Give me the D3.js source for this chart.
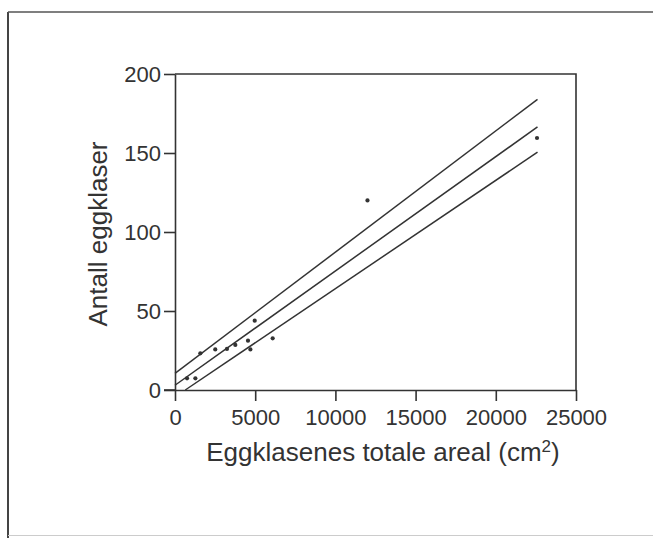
<!DOCTYPE html>
<html>
<head>
<meta charset="utf-8">
<script src="https://cdn.jsdelivr.net/npm/d3@7"></script>
<style>
  html, body { margin: 0; padding: 0; background: #fff; }
  svg { display: block; }
  text { font-family: "Liberation Sans", Arial, Helvetica, sans-serif; fill: #333; }
</style>
</head>
<body>
<script>
// ---- data ----
const pointsX = [750, 1270, 1580, 2510, 3240, 3760, 4550, 4700, 4970, 6090, 12000, 22570];
const pointsY = [7.4, 7.4, 23.2, 25.7, 26, 28.5, 31.2, 25.7, 43.9, 32.7, 120, 159.5];

const fitX = [0, 22600];
const fitY = [3, 166.5];
const upperX = [0, 22600];
const upperY = [10.5, 184];
const lowerX = [640, 22600];
const lowerY = [0, 150.5];

const xTicks = [0, 5000, 10000, 15000, 20000, 25000];
const yTicks = [0, 50, 100, 150, 200];
const xTitle = "Eggklasenes totale areal (cm";
const xTitleSup = "2";
const xTitleEnd = ")";
const yTitle = "Antall eggklaser";

// ---- drawing ----
const W = 653, H = 538;
const svg = d3.select("body").append("svg").attr("width", W).attr("height", H);
const ink = "#333";

// outer frame
svg.append("line").attr("x1", 8).attr("x2", 8).attr("y1", 12).attr("y2", H)
  .attr("stroke", "#444").attr("stroke-width", 2);
svg.append("line").attr("x1", 8).attr("x2", W).attr("y1", 12).attr("y2", 12)
  .attr("stroke", "#555").attr("stroke-width", 1.5);
svg.append("line").attr("x1", 8).attr("x2", W).attr("y1", 535.5).attr("y2", 535.5)
  .attr("stroke", "#ccc").attr("stroke-width", 1);

const x = d3.scaleLinear().domain([0, 25000]).range([175, 576]);
const y = d3.scaleLinear().domain([0, 200]).range([390, 74]);

// plot box (top & right)
svg.append("path")
  .attr("d", `M${x(0)},${y(200)}H${x(25000)}V${y(0)}`)
  .attr("fill", "none").attr("stroke", ink).attr("stroke-width", 1.6);

const xAxis = svg.append("g").attr("transform", `translate(0,${y(0)})`)
  .call(d3.axisBottom(x).tickValues(xTicks).tickFormat(d3.format("d"))
        .tickSize(11).tickSizeOuter(0).tickPadding(8));
const yAxis = svg.append("g").attr("transform", `translate(${x(0)},0)`)
  .call(d3.axisLeft(y).tickValues(yTicks).tickFormat(d3.format("d"))
        .tickSize(11).tickSizeOuter(0).tickPadding(3));

[xAxis, yAxis].forEach(g => {
  g.select(".domain").attr("stroke", ink).attr("stroke-width", 1.6);
  g.selectAll(".tick line").attr("stroke", ink).attr("stroke-width", 1.6);
  g.selectAll(".tick text").attr("fill", ink).style("font-size", "22px")
    .style("font-family", "'Liberation Sans', Arial, sans-serif");
});
// extend x-axis slightly left like the reference
svg.append("line").attr("x1", x(0) - 11).attr("x2", x(0)).attr("y1", y(0)).attr("y2", y(0))
  .attr("stroke", ink).attr("stroke-width", 1.6);

// regression & band lines
const line = d3.line().x(d => x(d[0])).y(d => y(d[1]));
[[upperX, upperY], [fitX, fitY], [lowerX, lowerY]].forEach(([xs, ys]) => {
  svg.append("path").datum(xs.map((v, i) => [v, ys[i]]))
    .attr("d", line).attr("fill", "none").attr("stroke", ink).attr("stroke-width", 1.5);
});

// points
svg.append("g").selectAll("circle").data(pointsX.map((v, i) => [v, pointsY[i]]))
  .join("circle").attr("cx", d => x(d[0])).attr("cy", d => y(d[1]))
  .attr("r", 2.1).attr("fill", "#333");

// axis titles
const xt = svg.append("text").attr("x", 383).attr("y", 461).attr("text-anchor", "middle")
  .style("font-size", "26px");
xt.append("tspan").text(xTitle);
xt.append("tspan").text(xTitleSup).attr("dy", -9).style("font-size", "17px");
xt.append("tspan").text(xTitleEnd).attr("dy", 9);

svg.append("text").attr("transform", `translate(107,234) rotate(-90)`)
  .attr("text-anchor", "middle").style("font-size", "26px").text(yTitle);
</script>
</body>
</html>
